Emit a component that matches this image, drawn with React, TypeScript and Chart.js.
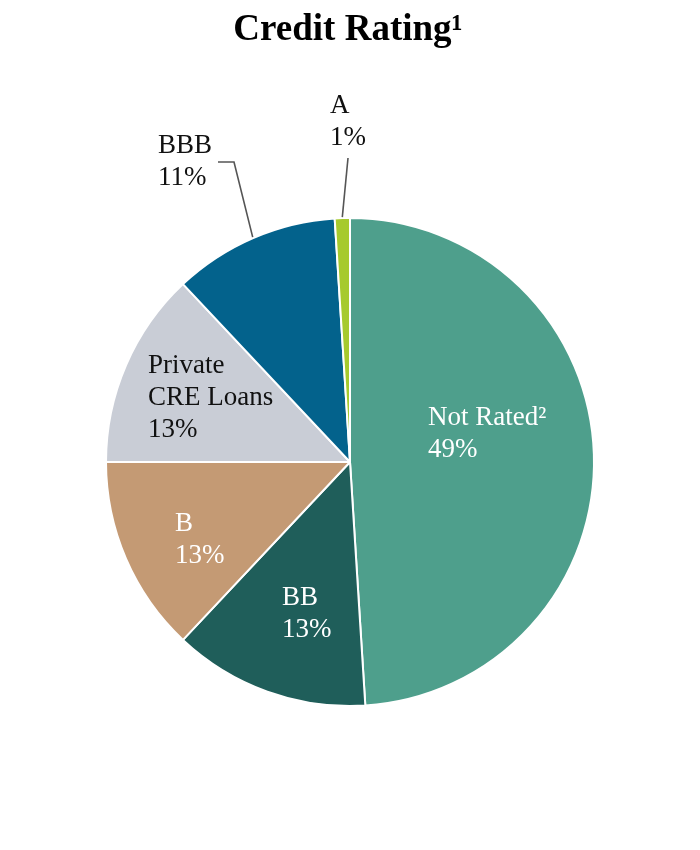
import React, { useEffect, useRef } from "react";
import { Chart, registerables } from "chart.js";

Chart.register(...registerables);

const TITLE = "Credit Rating¹";
const categories = ["Not Rated²", "BB", "B", "Private CRE Loans", "BBB", "A"];
const labelLines = [["Not Rated²"], ["BB"], ["B"], ["Private", "CRE Loans"], ["BBB"], ["A"]];
const values = [49, 13, 13, 13, 11, 1];
const percentLabels = ["49%", "13%", "13%", "13%", "11%", "1%"];

const colors = ["#4E9F8C", "#1F5E5A", "#C49A74", "#C9CDD6", "#03628C", "#A6CA2E"];
const textColors = ["#ffffff", "#ffffff", "#ffffff", "#111111", "#111111", "#111111"];

// text block anchor (left edge, first baseline) relative to pie centre, in px at radius 244
const labelOffsets = [
  [78, -37],
  [-68, 143],
  [-175, 69],
  [-202, -89],
  [-192, -309],
  [-20, -349],
];
// leader line bend points relative to pie centre (px at radius 244); starts at slice edge
const leaderPoints: (number[][] | null)[] = [
  null,
  null,
  null,
  null,
  [[-116, -300], [-132, -300]],
  [[-2, -304]],
];

const FONT = "'Liberation Serif', 'Times New Roman', serif";

const labelPlugin = {
  id: "sliceLabels",
  afterDatasetsDraw(chart: any) {
    const ctx = chart.ctx;
    const meta = chart.getDatasetMeta(0);
    const first = meta.data[0];
    if (!first) return;
    const cx = first.x;
    const cy = first.y;
    const r = first.outerRadius;
    const s = r / 244;
    ctx.save();
    // title
    ctx.fillStyle = "#000";
    ctx.font = `bold 37px ${FONT}`;
    ctx.textAlign = "center";
    ctx.textBaseline = "alphabetic";
    ctx.fillText(TITLE, chart.width / 2 - 2, 40);

    meta.data.forEach((arc: any, i: number) => {
      const mid = (arc.startAngle + arc.endAngle) / 2;
      const pts = leaderPoints[i];
      if (pts) {
        ctx.strokeStyle = "#555";
        ctx.lineWidth = 1.6;
        ctx.beginPath();
        ctx.moveTo(cx + Math.cos(mid) * (r + 1), cy + Math.sin(mid) * (r + 1));
        pts.forEach((p) => ctx.lineTo(cx + p[0] * s, cy + p[1] * s));
        ctx.stroke();
      }
      const lines = [...labelLines[i], percentLabels[i]];
      ctx.fillStyle = textColors[i];
      ctx.font = `27px ${FONT}`;
      ctx.textAlign = "left";
      const x = cx + labelOffsets[i][0] * s;
      const y = cy + labelOffsets[i][1] * s;
      lines.forEach((ln, k) => ctx.fillText(ln, x, y + k * 32));
    });
    ctx.restore();
  },
};

export default function App() {
  const ref = useRef<HTMLCanvasElement>(null);
  useEffect(() => {
    document.body.style.margin = "0";
    const chart = new Chart(ref.current!, {
      type: "pie",
      data: {
        labels: categories,
        datasets: [
          {
            data: values,
            backgroundColor: colors,
            borderColor: "#ffffff",
            borderWidth: 2,
          },
        ],
      },
      options: {
        responsive: false,
        animation: false,
        layout: { padding: { left: 105, right: 105, top: 217, bottom: 143 } },
        plugins: {
          legend: { display: false },
          tooltip: { enabled: false },
          title: { display: false },
        },
      },
      plugins: [labelPlugin],
    });
    return () => chart.destroy();
  }, []);
  return (
    <div style={{ width: 700, height: 850, background: "#fff" }}>
      <canvas ref={ref} width={700} height={850} />
    </div>
  );
}
